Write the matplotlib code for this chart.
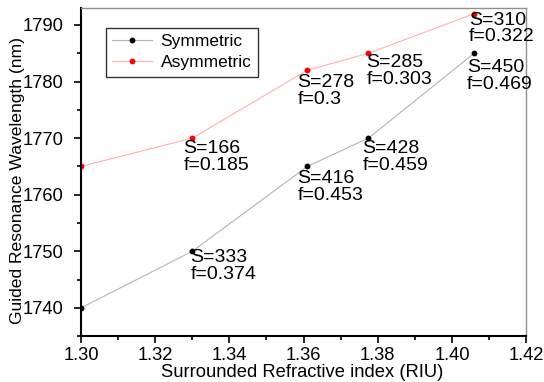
import numpy as np
import matplotlib.pyplot as plt
from matplotlib.ticker import MultipleLocator

plt.rcParams['font.family'] = ['Liberation Sans', 'DejaVu Sans']

# data
n_sym = [1.30, 1.33, 1.361, 1.3775, 1.406]
wl_sym = [1740, 1750, 1765, 1770, 1785]
lab_sym = [None, 'S=333\nf=0.374', 'S=416\nf=0.453', 'S=428\nf=0.459', 'S=450\nf=0.469']

n_asym = [1.30, 1.33, 1.361, 1.3775, 1.406]
wl_asym = [1765, 1770, 1782, 1785, 1792]
lab_asym = [None, 'S=166\nf=0.185', 'S=278\nf=0.3', 'S=285\nf=0.303', 'S=310\nf=0.322']

# label offsets in pixels (dx right, dy down) from each point
off_sym = [None, (-2, 1), (-10, 7), (-6, 5), (-7, 9)]
off_asym = [None, (-9, 5), (-10, 7), (-2, 4), (-5, 1)]

fig = plt.figure(figsize=(5.44, 3.82), dpi=100)
ax = fig.add_axes([0.149, 0.12, 0.818, 0.859])

ax.plot(n_sym, wl_sym, '-', color='#b4b4b4', lw=0.8,
        marker='o', ms=3.2, mfc='black', mec='black', label='Symmetric')
ax.plot(n_asym, wl_asym, '-', color='#ffb0b0', lw=0.8,
        marker='o', ms=3.2, mfc='red', mec='red', label='Asymmetric')

def put_labels(xs, ys, labels, offs):
    for x, y, t, o in zip(xs, ys, labels, offs):
        if t is None:
            continue
        ax.annotate(t, (x, y), xytext=(o[0] * 0.72, -(o[1] - 3) * 0.72),
                    textcoords='offset points', ha='left', va='top',
                    fontsize=14, linespacing=0.98)

put_labels(n_sym, wl_sym, lab_sym, off_sym)
put_labels(n_asym, wl_asym, lab_asym, off_asym)

ax.set_xlim(1.30, 1.42)
ax.set_ylim(1735, 1793)
ax.xaxis.set_major_locator(MultipleLocator(0.02))
ax.xaxis.set_minor_locator(MultipleLocator(0.01))
ax.yaxis.set_major_locator(MultipleLocator(10))
ax.yaxis.set_minor_locator(MultipleLocator(5))
ax.xaxis.set_major_formatter(plt.FormatStrFormatter('%.2f'))
ax.tick_params(which='both', direction='out', top=False, right=False, labelsize=13.2, width=1.2)
ax.tick_params(which='major', length=5)
ax.tick_params(which='minor', length=3)
ax.tick_params(axis='y', pad=8)
ax.tick_params(axis='x', pad=3)

for s in ['left', 'bottom']:
    ax.spines[s].set_linewidth(1.5)
for s in ['top', 'right']:
    ax.spines[s].set_color('#909090')
    ax.spines[s].set_linewidth(1.0)

ax.set_xlabel('Surrounded Refractive index (RIU)', fontsize=13.2)
ax.set_ylabel('Guided Resonance Wavelength (nm)', fontsize=12.6)
ax.xaxis.set_label_coords(0.498, -0.086)
ax.yaxis.set_label_coords(-0.126, 0.476)

leg = ax.legend(loc='upper left', bbox_to_anchor=(0.056, 0.939), borderaxespad=0,
                fontsize=12.5, fancybox=False, framealpha=1, edgecolor='#333333',
                handlelength=2.3, borderpad=0.35, labelspacing=0.35, handletextpad=0.5)
leg.get_frame().set_linewidth(1.0)

fig.savefig('out.png', dpi=100)
